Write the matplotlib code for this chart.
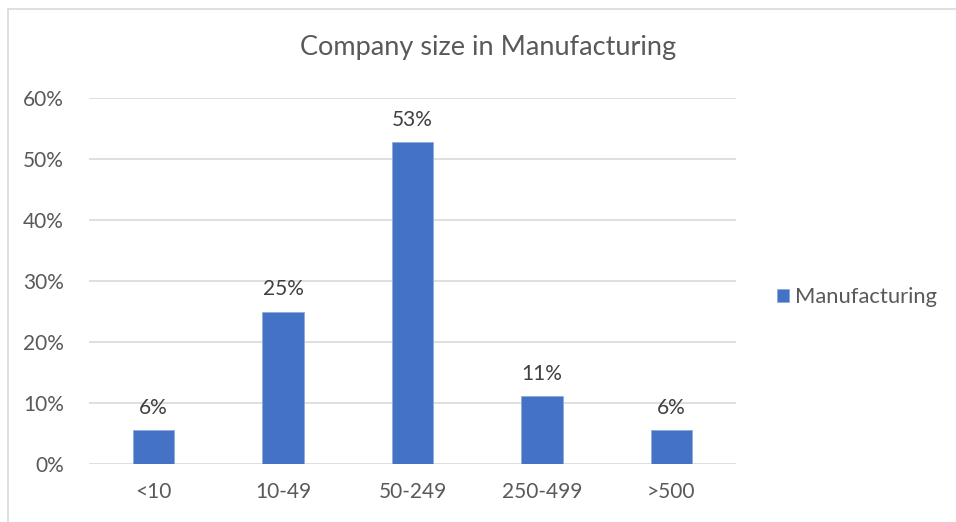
import matplotlib.pyplot as plt
from matplotlib.patches import Rectangle
from matplotlib.ticker import FuncFormatter

categories = ['<10', '10-49', '50-249', '250-499', '>500']
shares = [5.56, 25.0, 52.78, 11.11, 5.56]   # percent of companies
series_name = 'Manufacturing'
y_ticks = [0, 10, 20, 30, 40, 50, 60]

plt.rcParams['font.family'] = ['Lato', 'DejaVu Sans']
text_grey = '#595959'
bar_blue = '#4472C4'

fig = plt.figure(figsize=(9.56, 5.22), dpi=100)
W, H = 956, 522
ax = fig.add_axes([89 / W, 1 - 464 / H, (736 - 89) / W, (464 - 98) / H])

# chart frame
fig.patches.append(Rectangle((8 / W, -0.05), 1.2, 1 - 9 / H + 0.05,
                             transform=fig.transFigure, fill=False,
                             edgecolor='#D9D9D9', linewidth=1.2))

x = range(len(categories))
bars = ax.bar(x, shares, width=0.32, color=bar_blue, edgecolor='#8FAADC',
              linewidth=0.6, label=series_name, zorder=3)

for b, v in zip(bars, shares):
    ax.annotate(f'{v:.0f}%', (b.get_x() + b.get_width() / 2, v),
                xytext=(0, 9), textcoords='offset points',
                ha='center', va='bottom', fontsize=15, color='#404040')

ax.set_xlim(-0.5, len(categories) - 0.5)
ax.set_ylim(0, 60)
ax.set_yticks(y_ticks)
ax.yaxis.set_major_formatter(FuncFormatter(lambda v, _: f'{v:.0f}%'))
ax.set_xticks(list(x))
ax.set_xticklabels(categories)
ax.grid(axis='y', color='#D9D9D9', linewidth=1.2, zorder=0)
for s in ax.spines.values():
    s.set_visible(False)
ax.tick_params(axis='both', length=0, labelsize=15, colors=text_grey)
ax.tick_params(axis='x', pad=13)
ax.tick_params(axis='y', pad=18)

fig.text(488 / W, 1 - 48 / H, 'Company size in Manufacturing',
         ha='center', va='center', fontsize=19.5, color=text_grey)

fig.legend(handles=[bars], labels=[series_name], loc='center left',
           bbox_to_anchor=(757 / W, 1 - 297 / H), frameon=False,
           fontsize=15.8, labelcolor=text_grey, handlelength=0.55,
           handleheight=0.55, handletextpad=0.3)

fig.savefig('out.png', dpi=100)
